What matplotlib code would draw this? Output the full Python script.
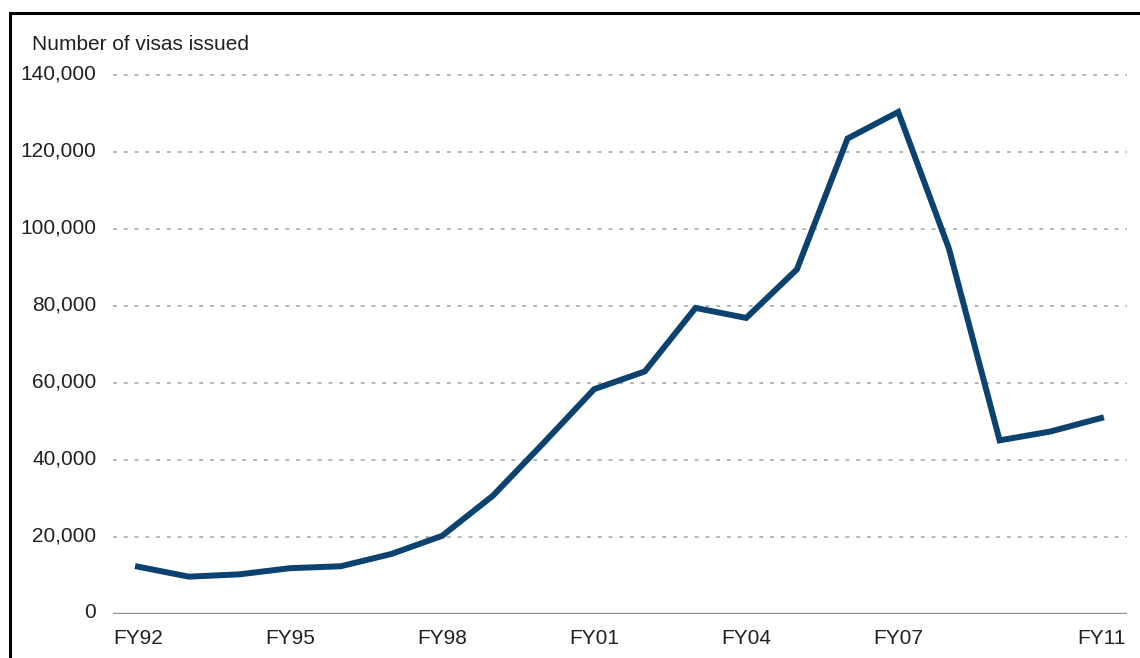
import numpy as np
import matplotlib
matplotlib.use("Agg")
from matplotlib import pyplot as plt
from matplotlib.patches import Rectangle
import matplotlib.transforms as mtransforms


years = ["FY92", "FY93", "FY94", "FY95", "FY96", "FY97", "FY98", "FY99", "FY00", "FY01",
         "FY02", "FY03", "FY04", "FY05", "FY06", "FY07", "FY08", "FY09", "FY10", "FY11"]
visas = [12300, 9700, 10300, 11900, 12400, 15600, 20300, 30700, 44400, 58400,
         63000, 79500, 76900, 89500, 123500, 130400, 94900, 45100, 47400, 50900]
tick_years = ["FY92", "FY95", "FY98", "FY01", "FY04", "FY07", "FY11"]
y_ticks = [0, 20000, 40000, 60000, 80000, 100000, 120000, 140000]

plt.rcParams['font.family'] = ['Liberation Sans', 'DejaVu Sans']
text_col = '#231f20'

fig = plt.figure(figsize=(11.4, 6.58), dpi=100)

# frame around the figure (only left and top visible in crop)
fig.patches.append(Rectangle((10 / 1140, -0.1), 1.2, (658 - 13) / 658 + 0.1,
                             transform=fig.transFigure, fill=False,
                             edgecolor='black', linewidth=2.2))

ax = fig.add_axes([113 / 1140, 44 / 658, 1014 / 1140, 0.8484])

x = np.arange(len(years))
ax.plot(x, visas, color='#0b426f', linewidth=4.3, solid_joinstyle='miter', zorder=3)

ax.set_xlim(-0.493, 19.513)
ax.set_ylim(0, 145000)

for v in y_ticks[1:]:
    ax.axhline(v, color='#a3a3a3', linewidth=1.1, linestyle=(0, (2.6, 4.45)), zorder=1)
ax.axhline(0, color='#8c8c8c', linewidth=1.7, zorder=2)

ax.set_yticks(y_ticks)
ax.set_yticklabels(['{:,}'.format(v) for v in y_ticks])
ax.set_xticks([years.index(t) for t in tick_years])
ax.set_xticklabels(tick_years)
ax.tick_params(axis='both', length=0, labelsize=15, colors=text_col)
ax.tick_params(axis='y', pad=12)
ax.tick_params(axis='x', pad=11)

offset = mtransforms.ScaledTranslation(0, 3 / 100, fig.dpi_scale_trans)
for lbl in ax.get_yticklabels():
    lbl.set_transform(lbl.get_transform() + offset)

for s in ax.spines.values():
    s.set_visible(False)

fig.text(32 / 1140, (658 - 50) / 658, "Number of visas issued", fontsize=15,
         color=text_col, ha='left', va='baseline')

fig.savefig("out.png", dpi=100)
